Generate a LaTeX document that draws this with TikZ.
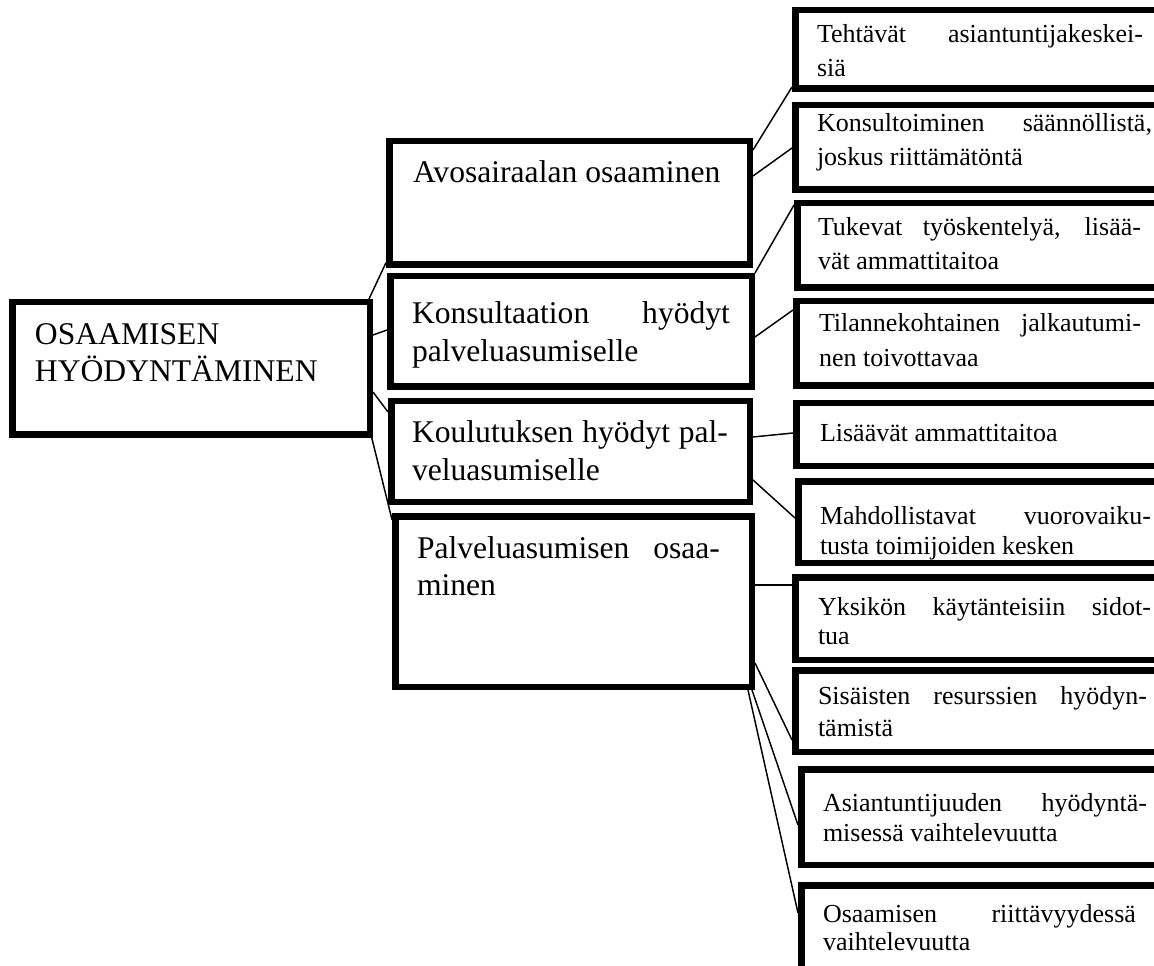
\documentclass[tikz,border=0pt]{standalone}
\usepackage{fontspec}
\setmainfont{Liberation Serif}
\newlength\pxu \setlength\pxu{0.75pt}
\newcommand\jl[1]{\makebox[\linewidth][s]{#1}}
\tikzset{
  box/.style={draw=black, line width=4.875pt, inner sep=0pt},
  conn/.style={draw=black, line width=1.1pt},
  lbl/.style={anchor=base west, inner sep=0pt, outer sep=0pt}
}
\newcommand\bx[5]{\node[box, minimum width={(#4-#2-6.5)*0.75pt}, minimum height={(#5-#3-6.5)*0.75pt}] (#1) at ({(#2+#4)/2},{(#3+#5)/2}) {};}
\newcommand\tx[7]{\node[lbl] (#1) at (#2,#3) {\parbox[t]{#4\pxu}{\fontsize{#5}{#6}\selectfont #7}};}
\begin{document}
\begin{tikzpicture}[x=0.75pt,y=-0.75pt]
\useasboundingbox (0,0) rectangle (1154,966);
\clip (0,0) rectangle (1154,966);
% boxes
\bx{root}{9}{299}{373}{438}
\bx{avo}{386}{138}{753}{268}
\bx{kons}{387}{273}{755}{390}
\bx{koul}{388}{398}{753}{505}
\bx{palv}{392}{513}{755}{690}
\bx{r1}{792}{7}{1185}{92}
\bx{r2}{792}{102}{1185}{193}
\bx{r3}{794}{200}{1185}{291}
\bx{r4}{793}{298}{1185}{389}
\bx{r5}{793}{400}{1185}{469}
\bx{r6}{795}{478}{1185}{566}
\bx{r7}{792}{574}{1185}{663}
\bx{r8}{792}{667}{1185}{755}
\bx{r9}{798}{766}{1185}{868}
\bx{r10}{798}{882}{1185}{1010}
% texts
\tx{troot}{35}{345}{330}{23.7pt}{27.75pt}{OSAAMISEN\\HYÖDYNTÄMINEN}
\tx{tavo}{413}{183}{330}{23.7pt}{28pt}{Avosairaalan osaaminen}
\tx{tkons}{412}{324}{318}{23.7pt}{28.5pt}{\jl{Konsultaation hyödyt}\\palveluasumiselle}
\tx{tkoul}{412}{442}{316}{23.7pt}{28.5pt}{\jl{Koulutuksen hyödyt pal-}\\veluasumiselle}
\tx{tpalv}{417}{558}{303}{23.7pt}{27.75pt}{\jl{Palveluasumisen osaa-}\\minen}
\tx{tr1}{817}{43}{326}{19.5pt}{25.5pt}{\jl{Tehtävät asiantuntijakeskei-}\\siä}
\tx{tr2}{817}{132}{335}{19.5pt}{25.5pt}{\jl{Konsultoiminen säännöllistä,}\\joskus riittämätöntä}
\tx{tr3}{818}{236}{323}{19.5pt}{25.5pt}{\jl{Tukevat työskentelyä, lisää-}\\vät ammattitaitoa}
\tx{tr4}{819}{332}{322}{19.5pt}{26.25pt}{\jl{Tilannekohtainen jalkautumi-}\\nen toivottavaa}
\tx{tr5}{820}{441}{330}{19.5pt}{25.5pt}{Lisäävät ammattitaitoa}
\tx{tr6}{820}{524}{331}{19.5pt}{22.5pt}{\jl{Mahdollistavat vuorovaiku-}\\tusta toimijoiden kesken}
\tx{tr7}{818}{615}{333}{19.5pt}{21.75pt}{\jl{Yksikön käytänteisiin sidot-}\\tua}
\tx{tr8}{818}{704}{329}{19.5pt}{24pt}{\jl{Sisäisten resurssien hyödyn-}\\tämistä}
\tx{tr9}{823}{811}{324}{19.5pt}{22.5pt}{\jl{Asiantuntijuuden hyödyntä-}\\misessä vaihtelevuutta}
\tx{tr10}{823}{922}{313}{19.5pt}{21pt}{\jl{Osaamisen riittävyydessä}\\vaihtelevuutta}
% connectors
\draw[conn] ([xshift=-3pt]root.north east) -- ([yshift=4pt]avo.south west);
\draw[conn] ([yshift=-27pt]root.north east) -- ([yshift=-42.75pt]kons.north west);
\draw[conn] ([yshift=34.5pt]root.south east) -- ([yshift=-10.5pt]koul.north west);
\draw[conn] ([xshift=-2pt,yshift=4.5pt]root.south east) -- ([yshift=-5pt]palv.north west);
\draw[conn] ([yshift=-9pt]avo.north east) -- ([yshift=3.75pt]r1.south west);
\draw[conn] ([yshift=-28.5pt]avo.north east) -- ([yshift=-34.5pt]r2.north west);
\draw[conn] (kons.north east) -- ([yshift=-3.75pt]r3.north west);
\draw[conn] ([yshift=-48pt]kons.north east) -- ([yshift=-9pt]r4.north west);
\draw[conn] ([yshift=-29.25pt]koul.north east) -- ([yshift=-24.75pt]r5.north west);
\draw[conn] ([yshift=18.75pt]koul.south east) -- ([yshift=-30pt]r6.north west);
\draw[conn] ([yshift=-54pt]palv.north east) -- ([yshift=-8.25pt]r7.north west);
\draw[conn] ([yshift=20.25pt]palv.south east) -- ([yshift=11.25pt]r8.south west);
\draw[conn] ([xshift=-2.25pt]palv.south east) -- ([yshift=-44.25pt]r9.north west);
\draw[conn] ([xshift=-5.25pt]palv.south east) -- ([yshift=-23.25pt]r10.north west);
\end{tikzpicture}
\end{document}
